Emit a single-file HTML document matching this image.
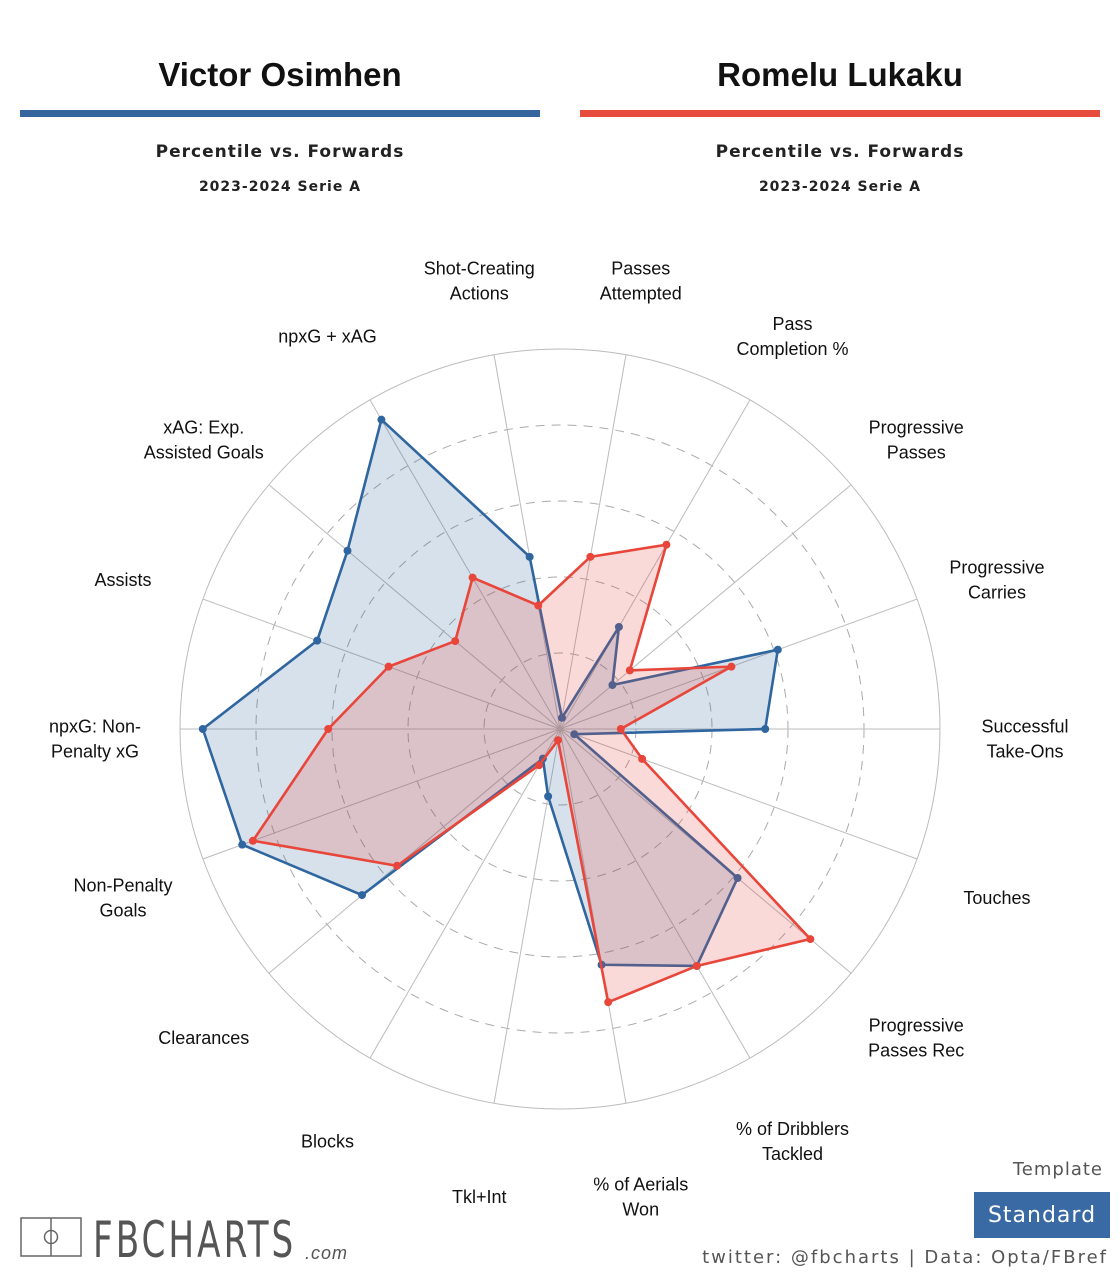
<!DOCTYPE html>
<html><head><meta charset="utf-8">
<style>
body{margin:0;background:#fff;width:1120px;height:1280px;overflow:hidden;font-family:"Liberation Sans",sans-serif;}
svg{display:block}
</style></head>
<body>
<svg width="1120" height="1280" viewBox="0 0 1120 1280">
<text x="280" y="86" text-anchor="middle" font-size="33" font-weight="bold" fill="#111">Victor Osimhen</text>
<rect x="20" y="110" width="520" height="7" fill="#34659c"/>
<text x="280" y="157" text-anchor="middle" font-size="17" font-weight="bold" letter-spacing="1" font-family="DejaVu Sans, sans-serif" fill="#222">Percentile vs. Forwards</text>
<text x="280" y="191" text-anchor="middle" font-size="14" font-weight="bold" letter-spacing="1" font-family="DejaVu Sans, sans-serif" fill="#222">2023-2024 Serie A</text>
<text x="840" y="86" text-anchor="middle" font-size="33" font-weight="bold" fill="#111">Romelu Lukaku</text>
<rect x="580" y="110" width="520" height="7" fill="#e84c3d"/>
<text x="840" y="157" text-anchor="middle" font-size="17" font-weight="bold" letter-spacing="1" font-family="DejaVu Sans, sans-serif" fill="#222">Percentile vs. Forwards</text>
<text x="840" y="191" text-anchor="middle" font-size="14" font-weight="bold" letter-spacing="1" font-family="DejaVu Sans, sans-serif" fill="#222">2023-2024 Serie A</text>
<g id="radar"></g>
<g>
<rect x="21" y="1218" width="60" height="38" fill="none" stroke="#666" stroke-width="1.5"/>
<line x1="51" y1="1218" x2="51" y2="1256" stroke="#666" stroke-width="1.5"/>
<circle cx="51" cy="1237" r="6.5" fill="none" stroke="#666" stroke-width="1.5"/>
<text x="0" y="1257" font-size="50" fill="#555" font-family="DejaVu Sans Condensed, Liberation Sans Narrow, sans-serif" letter-spacing="4" transform="translate(93,0) scale(0.76,1)">FBCHARTS</text>
<text x="305" y="1259" font-size="18" font-style="italic" fill="#555" letter-spacing="1">.com</text>
</g>
<text x="1103" y="1175" text-anchor="end" font-size="18" fill="#555" font-family="DejaVu Sans, sans-serif" letter-spacing="1">Template</text>
<rect x="974" y="1192" width="136" height="46" fill="#3a6aa3"/>
<text x="1042" y="1222" text-anchor="middle" font-size="22" fill="#fff" font-family="DejaVu Sans, sans-serif" letter-spacing="1">Standard</text>
<text x="1108" y="1263" text-anchor="end" font-size="18" fill="#555" font-family="DejaVu Sans, sans-serif" letter-spacing="2">twitter: @fbcharts | Data: Opta/FBref</text>
</svg>
<script>
const categories=[["Shot-Creating","Actions"],["Passes","Attempted"],["Pass","Completion %"],["Progressive","Passes"],["Progressive","Carries"],["Successful","Take-Ons"],["Touches"],["Progressive","Passes Rec"],["% of Dribblers","Tackled"],["% of Aerials","Won"],["Tkl+Int"],["Blocks"],["Clearances"],["Non-Penalty","Goals"],["npxG: Non-","Penalty xG"],["Assists"],["xAG: Exp.","Assisted Goals"],["npxG + xAG"]];
const osimhen=[46,3,31,18,61,54,4,61,72,63,18,9,68,89,94,68,73,94];
const lukaku=[33,46,56,24,48,16,23,86,72,73,3,11,56,86,61,48,36,46];
const ringTicks=[20,40,60,80];
const NS="http://www.w3.org/2000/svg";
const g=document.getElementById('radar');
const cx=560,cy=729,R=380;
const n=categories.length;
function ang(i){return (-10+i*360/n)*Math.PI/180;}
function pt(i,v){const a=ang(i),r=v/100*R;return [cx+r*Math.sin(a),cy-r*Math.cos(a)];}
function mk(tag,attrs){const e=document.createElementNS(NS,tag);for(const k in attrs)e.setAttribute(k,attrs[k]);g.appendChild(e);return e;}
let c=mk('circle',{cx:cx,cy:cy,r:R,fill:'none',stroke:'#bbb','stroke-width':1});


ringTicks.forEach(t=>{const e=mk('circle',{cx:cx,cy:cy,r:t/100*R,fill:'none',stroke:'#aaa','stroke-width':1,'stroke-dasharray':'9,7'});

});
for(let i=0;i<n;i++){const a=ang(i);
const e=mk('line',{x1:cx,y1:cy,x2:cx+R*Math.sin(a),y2:cy-R*Math.cos(a),stroke:'#bbb','stroke-width':1});

}
function series(vals,col,fill,name){
const p=vals.map((v,i)=>pt(i,v).join(',')).join(' ');
const e=mk('polygon',{points:p,fill:fill,stroke:col,'stroke-width':2.6,'stroke-linejoin':'miter'});


vals.forEach((v,i)=>{const q=pt(i,v);const d=mk('circle',{cx:q[0],cy:q[1],r:4,fill:col});

});
}
series(osimhen,'#2f66a0','rgba(55,105,160,0.2)','osimhen');
series(lukaku,'#e8463a','rgba(232,70,58,0.2)','lukaku');
categories.forEach((lines,i)=>{const a=ang(i),r=465;const x=cx+r*Math.sin(a),y=cy-r*Math.cos(a)+10;
const t=mk('text',{x:x,'text-anchor':'middle','font-size':18,fill:'#111'});


const y0=y+6-(lines.length-1)*12.5;
lines.forEach((l,k)=>{const s=document.createElementNS(NS,'tspan');s.setAttribute('x',x);s.setAttribute('y',y0+k*25);s.textContent=l;t.appendChild(s);});});
</script>
</body></html>
